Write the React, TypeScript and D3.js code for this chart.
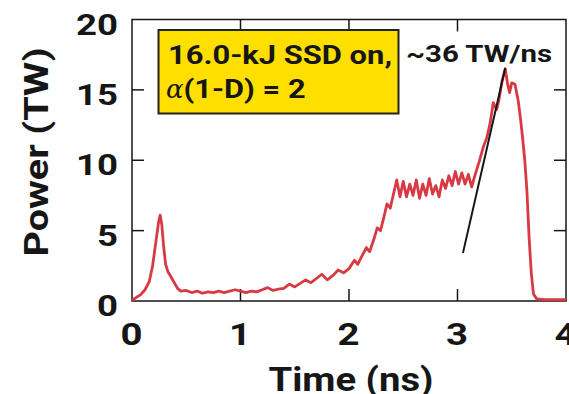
import React from "react";
import * as d3 from "d3";

const time = [0.0, 0.03, 0.08, 0.12, 0.16, 0.19, 0.22, 0.245, 0.26, 0.275, 0.29, 0.31, 0.33, 0.36, 0.39, 0.42, 0.45, 0.5, 0.55, 0.6, 0.65, 0.7, 0.75, 0.8, 0.85, 0.9, 0.95, 1.0, 1.05, 1.1, 1.15, 1.2, 1.25, 1.3, 1.35, 1.4, 1.45, 1.5, 1.55, 1.6, 1.65, 1.7, 1.75, 1.8, 1.85, 1.9, 1.95, 2.0, 2.05, 2.08, 2.12, 2.16, 2.19, 2.23, 2.26, 2.29, 2.32, 2.35, 2.38, 2.41, 2.44, 2.47, 2.5, 2.53, 2.56, 2.59, 2.62, 2.65, 2.68, 2.71, 2.74, 2.77, 2.8, 2.83, 2.86, 2.89, 2.92, 2.95, 2.98, 3.01, 3.04, 3.07, 3.1, 3.13, 3.16, 3.2, 3.24, 3.27, 3.3, 3.33, 3.36, 3.38, 3.41, 3.44, 3.46, 3.48, 3.5, 3.53, 3.56, 3.58, 3.6, 3.62, 3.64, 3.66, 3.68, 3.7, 3.73, 3.8, 3.9, 4.0];
const power = [0.05, 0.2, 0.45, 0.8, 1.4, 2.5, 4.2, 5.6, 6.1, 5.4, 4.0, 2.6, 2.1, 1.7, 1.3, 0.9, 0.7, 0.75, 0.6, 0.7, 0.55, 0.65, 0.6, 0.7, 0.6, 0.7, 0.8, 0.7, 0.6, 0.7, 0.65, 0.8, 0.95, 0.75, 0.85, 0.9, 1.2, 1.0, 1.25, 1.5, 1.3, 1.6, 1.9, 1.5, 1.8, 2.2, 2.0, 2.3, 2.9, 2.6, 3.2, 3.8, 3.5, 4.4, 5.2, 5.0, 5.9, 6.9, 6.6, 7.6, 8.6, 7.4, 8.5, 7.4, 8.3, 7.5, 8.6, 7.3, 8.3, 7.5, 8.7, 7.6, 8.2, 7.4, 8.6, 8.0, 8.9, 8.2, 9.2, 8.3, 9.1, 8.3, 9.0, 8.1, 8.9, 9.9, 11.0, 11.6, 12.6, 14.1, 13.6, 14.2, 15.6, 16.5, 15.5, 14.8, 15.5, 15.4, 14.2, 13.0, 11.6, 10.0, 7.8, 4.5, 2.0, 0.5, 0.15, 0.1, 0.1, 0.1];

const slopeTime = [3.05, 3.44];
const slopePower = [3.4, 16.55];

const xTicks = [0, 1, 2, 3, 4];
const yTicks = [0, 5, 10, 15, 20];

const legendLine1 = "16.0-kJ SSD on,";
const legendAlpha = "\u03b1";
const legendLine2 = "(1-D) = 2";
const slopeLabel = "~36 TW/ns";
const xTitle = "Time (ns)";
const yTitle = "Power (TW)";

export default function App() {
  const W = 569, H = 394;
  const x = d3.scaleLinear().domain([0, 4]).range([132, 566]);
  const y = d3.scaleLinear().domain([0, 20]).range([301, 19.5]);
  const pts: [number, number][] = time.map((t, i) => [t, power[i]]);
  const line = d3.line<[number, number]>().x(d => x(d[0])).y(d => y(d[1]));
  const slopePts: [number, number][] = slopeTime.map((t, i) => [t, slopePower[i]]);
  const font = "Roboto, Liberation Sans, Arial, sans-serif";
  const tl = 12;
  const innerX = xTicks.filter(v => v > 0 && v < 4);
  const innerY = yTicks.filter(v => v > 0 && v < 20);
  const ink = "#161616";
  const fw = 700;
  return (
    <svg width={W} height={H} style={{ position: "absolute", left: 0, top: 0, background: "#fff", fontFamily: font }}>
      <rect x={x(0)} y={y(20)} width={x(4) - x(0)} height={y(0) - y(20)} fill="none" stroke={ink} strokeWidth={1.5} />
      {innerX.map(v => (
        <g key={"xt" + v} stroke={ink} strokeWidth={1.5}>
          <line x1={x(v)} x2={x(v)} y1={y(0)} y2={y(0) - tl} />
          <line x1={x(v)} x2={x(v)} y1={y(20)} y2={y(20) + tl} />
        </g>
      ))}
      {innerY.map(v => (
        <g key={"yt" + v} stroke={ink} strokeWidth={1.5}>
          <line x1={x(0)} x2={x(0) + tl} y1={y(v)} y2={y(v)} />
          <line x1={x(4)} x2={x(4) - tl} y1={y(v)} y2={y(v)} />
        </g>
      ))}
      {xTicks.map(v => (
        <text key={"xl" + v} x={x(v) - 0.5} y={345} textAnchor="middle" fontSize={32} fontWeight={fw} fill={ink} textLength={22} lengthAdjust="spacingAndGlyphs">{v}</text>
      ))}
      {yTicks.map(v => (
        <text key={"yl" + v} x={118} y={y(v) + 15} textAnchor="end" fontSize={29} fontWeight={fw} fill={ink} textLength={String(v).length * 21} lengthAdjust="spacingAndGlyphs">{v}</text>
      ))}
      <text x={351} y={391} textAnchor="middle" fontSize={33} fontWeight={fw} fill={ink} textLength={165} lengthAdjust="spacingAndGlyphs">{xTitle}</text>
      <text transform="translate(48,152) rotate(-90)" textAnchor="middle" fontSize={33} fontWeight={fw} fill={ink} textLength={209} lengthAdjust="spacingAndGlyphs">{yTitle}</text>
      <path d={line(pts) || ""} fill="none" stroke="#d83a44" strokeWidth={2.8} strokeLinejoin="round" />
      <path d={line(slopePts) || ""} fill="none" stroke={ink} strokeWidth={2} />
      <rect x={158.5} y={30} width={240} height={83.5} fill="#ffdf00" stroke="#222" strokeWidth={2} />
      <text x={168} y={64} fontSize={26} fontWeight={fw} fill={ink} textLength={224} lengthAdjust="spacingAndGlyphs">{legendLine1}</text>
      <text x={166} y={98} fontSize={26} fontWeight={fw} fill={ink}>
        <tspan fontFamily="DejaVu Serif, serif" fontStyle="italic" fontWeight="normal">{legendAlpha}</tspan>
        <tspan textLength={122} lengthAdjust="spacingAndGlyphs">{legendLine2}</tspan>
      </text>
      <text x={406} y={62} fontSize={23} fontWeight={fw} fill={ink} textLength={146} lengthAdjust="spacingAndGlyphs">{slopeLabel}</text>
    </svg>
  );
}
